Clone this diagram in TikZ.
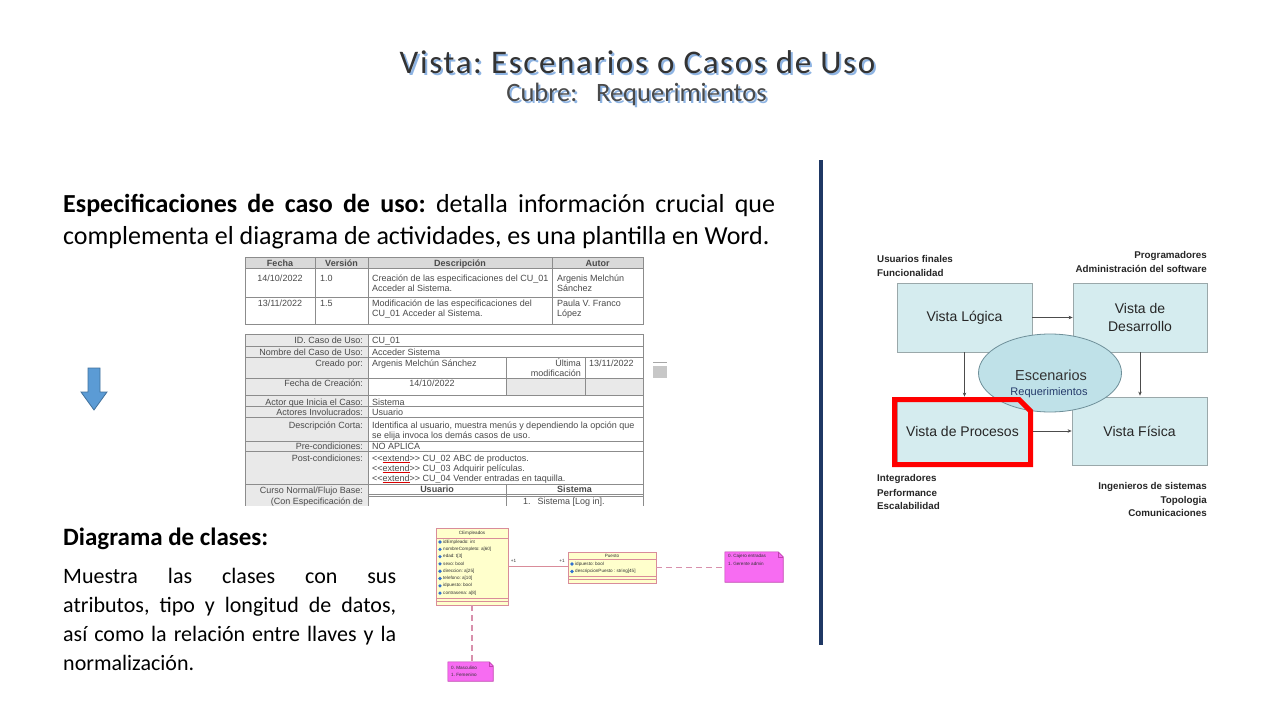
\documentclass[tikz,border=0pt]{standalone}
\usepackage{fontspec}
\setmainfont{Carlito}
\newfontfamily\arialf{Liberation Sans}
\usetikzlibrary{arrows.meta,calc,shapes.geometric}

\definecolor{titleshadow}{HTML}{8EB4E3}
\definecolor{titletext}{HTML}{333333}
\definecolor{subtext}{HTML}{4A4A4A}
\definecolor{tblline}{HTML}{8C8C8C}
\definecolor{tblhead}{HTML}{D9D9D9}
\definecolor{tbllabel}{HTML}{E9E9E9}
\definecolor{tbltext}{HTML}{4A4A4A}
\definecolor{arrowblue}{HTML}{5B9BD5}
\definecolor{arrowedge}{HTML}{41719C}
\definecolor{divider}{HTML}{1F3864}
\definecolor{umlfill}{HTML}{FFFFCC}
\definecolor{umlline}{HTML}{D98C9A}
\definecolor{umllink}{HTML}{D890AC}
\definecolor{attricon}{HTML}{3070D0}
\definecolor{notefill}{HTML}{F76CF2}
\definecolor{noteline}{HTML}{C040B0}
\definecolor{viewfill}{HTML}{D5ECEF}
\definecolor{viewline}{HTML}{9AA8AA}
\definecolor{scenfill}{HTML}{BFE1E8}
\definecolor{scenline}{HTML}{6E8F99}
\definecolor{reqtext}{HTML}{243A6A}
\definecolor{framered}{HTML}{FF0000}

\newcommand\tblfont{\arialf\fontsize{9}{10}\selectfont}
\newcommand\umlfont{\arialf\fontsize{4.6}{5.5}\selectfont}
\newcommand\redul[1]{\textcolor{red!85!black}{\underline{\textcolor{tbltext}{#1}}}}
% text with a soft blue drop shadow behind it
\newcommand\shadowed[1]{\makebox[0pt][l]{\hspace{2pt}\raisebox{-2pt}{\textcolor{titleshadow}{#1}}}#1}

\begin{document}
\frenchspacing
\begin{tikzpicture}[x=1pt,y=-1pt,
  tx/.style={inner sep=0pt, text=tbltext, font=\tblfont},
  txb/.style={tx, font=\tblfont\bfseries},
  tline/.style={draw=tblline, line width=0.6pt},
  umlbox/.style={draw=umlline, fill=umlfill, line width=0.9pt, inner sep=0pt},
  umltx/.style={inner sep=0pt, font=\umlfont, text=black!80},
  notelink/.style={draw=umllink, line width=1.1pt, dash pattern=on 6pt off 4pt},
  notebody/.style={fill=notefill, draw=noteline, line width=0.6pt},
  viewbox/.style={draw=viewline, fill=viewfill, line width=0.8pt,
    font=\arialf\fontsize{14}{18}\selectfont, text=black!85, align=center, inner sep=0pt},
  rolelbl/.style={inner sep=0pt, font=\arialf\bfseries\fontsize{9.8}{12}\selectfont, text=black!85},
  conn/.style={draw=black!70, line width=0.6pt, -{Stealth[length=4pt,width=3.5pt]}},
]
% canvas
\fill[white] (0,0) rectangle (1280,720);
\path[use as bounding box] (0,0) rectangle (1280,720);

% ---------- heading ----------
\node[anchor=base, inner sep=0pt, text depth=0pt, text=titletext, font=\fontsize{33}{36}\selectfont\addfontfeature{LetterSpace=5}] (title) at (637.5,73.5) {\shadowed{Vista: Escenarios o Casos de Uso}};
\node[anchor=base, inner sep=0pt, text height=17pt, text=subtext, font=\fontsize{26.5}{30}\selectfont] (sub) at (636.5,101) {\shadowed{Cubre:\hspace{0.7em}Requerimientos}};

% ---------- left column text ----------
\node[inner sep=0pt, anchor=base west] (spec) at (63,212)
  {\parbox[t]{712pt}{\fontsize{26}{32}\selectfont\textbf{Especificaciones de caso de uso:} detalla información crucial que\linebreak complementa el diagrama de actividades, es una plantilla en Word.}};

\node[inner sep=0pt, anchor=base west, font=\bfseries\fontsize{25}{30}\selectfont] (clshead) at (63,545) {Diagrama de clases:};
\node[inner sep=0pt, anchor=base west] (clsbody) at (63,583)
  {\parbox[t]{333pt}{\fontsize{22}{29}\selectfont Muestra las clases con sus\linebreak atributos, tipo y longitud de datos,\linebreak así como la relación entre llaves y la\linebreak normalización.}};

% down arrow
\path[fill=arrowblue, draw=arrowedge, line width=0.8pt]
  (88,368) -- (100,368) -- (100,392) -- (107,392) -- (94,410) -- (81,392) -- (88,392) -- cycle;

% ---------- use case template tables ----------
\begin{scope}
\clip (240,250) rectangle (675,505);
% revision history
\fill[tblhead] (245,257) rectangle (643,268);
\draw[tline] (245,257) rectangle (643,324);
\draw[tline] (245,268) -- (643,268) (245,297) -- (643,297);
\draw[tline] (315,257) -- (315,324) (368,257) -- (368,324) (552,257) -- (552,324);
\node[txb, anchor=base] (hfecha) at (280,266) {Fecha};
\node[txb, anchor=base] (hversion) at (341.5,266) {Versión};
\node[txb, anchor=base] (hdesc) at (460,266) {Descripción};
\node[txb, anchor=base] (hautor) at (597.5,266) {Autor};
\node[tx, anchor=base] (r1f) at (280,281) {14/10/2022};
\node[tx, anchor=base west] (r1v) at (320,281) {1.0};
\node[tx, anchor=base west] (r1d) at (372,281) {\parbox[t]{178pt}{\raggedright Creación de las especificaciones del CU\_01\\Acceder al Sistema.}};
\node[tx, anchor=base west] (r1a) at (557,281) {\parbox[t]{84pt}{\raggedright Argenis Melchún\\Sánchez}};
\node[tx, anchor=base] (r2f) at (280,306) {13/11/2022};
\node[tx, anchor=base west] (r2v) at (320,306) {1.5};
\node[tx, anchor=base west] (r2d) at (372,306) {\parbox[t]{178pt}{\raggedright Modificación de las especificaciones del\\CU\_01 Acceder al Sistema.}};
\node[tx, anchor=base west] (r2a) at (557,306) {\parbox[t]{84pt}{\raggedright Paula V. Franco\\López}};

% specification table
\fill[tbllabel] (245,334) rectangle (368,510);
\fill[tbllabel] (506,378) rectangle (643,395);
\draw[tline] (245,510) -- (245,334) -- (643,334) -- (643,510);
\foreach \yy in {346,357,378,395,406,417,441,451,484}
  \draw[tline] (245,\yy) -- (643,\yy);
\draw[tline] (368,334) -- (368,510);
\draw[tline] (506,357) -- (506,395) (585,357) -- (585,395);
\draw[tline] (506,484) -- (506,510);
\draw[tline] (368,494.3) -- (643,494.3) (368,496.3) -- (643,496.3);

\node[tx, anchor=base east] (lid) at (363,343.5) {ID. Caso de Uso:};
\node[tx, anchor=base east] (lnom) at (363,355) {Nombre del Caso de Uso:};
\node[tx, anchor=base east] (lcre) at (363,366) {Creado por:};
\node[tx, anchor=base east] (lfec) at (363,386) {Fecha de Creación:};
\node[tx, anchor=base east] (lact) at (363,405) {Actor que Inicia el Caso:};
\node[tx, anchor=base east] (linv) at (363,415) {Actores Involucrados:};
\node[tx, anchor=base east] (ldes) at (363,428) {Descripción Corta:};
\node[tx, anchor=base east] (lpre) at (363,449.5) {Pre-condiciones:};
\node[tx, anchor=base east] (lpos) at (363,461) {Post-condiciones:};
\node[tx, anchor=base east] (lcur) at (363,493) {Curso Normal/Flujo Base:};
\node[tx, anchor=base east] (lcon) at (363,504) {(Con Especificación de};

\node[tx, anchor=base west] (vid) at (372,343.5) {CU\_01};
\node[tx, anchor=base west] (vnom) at (372,355) {Acceder Sistema};
\node[tx, anchor=base west] (vcre) at (372,366) {Argenis Melchún Sánchez};
\node[tx, anchor=base east] (vult) at (581,366) {Última};
\node[tx, anchor=base east] (vmod) at (581,376) {modificación};
\node[tx, anchor=base west] (vfmod) at (589,366) {13/11/2022};
\node[tx, anchor=base] (vfec) at (432,386) {14/10/2022};
\node[tx, anchor=base west] (vact) at (372,405) {Sistema};
\node[tx, anchor=base west] (vinv) at (372,415) {Usuario};
\node[tx, anchor=base west] (vdes) at (372,428) {\parbox[t]{268pt}{\raggedright Identifica al usuario, muestra menús y dependiendo la opción que\\se elija invoca los demás casos de uso.}};
\node[tx, anchor=base west] (vpre) at (372,449.5) {NO APLICA};
\node[tx, anchor=base west] (vpos) at (372,461) {\parbox[t]{268pt}{\raggedright
  <{}<\redul{extend}>{}> CU\_02 ABC de productos.\\
  <{}<\redul{extend}>{}> CU\_03 Adquirir películas.\\
  <{}<\redul{extend}>{}> CU\_04 Vender entradas en taquilla.}};
\node[txb, anchor=base] (vusr) at (437,492) {Usuario};
\node[txb, anchor=base] (vsis) at (574.5,492) {Sistema};
\node[tx, anchor=base west] (vlog) at (523,504) {1.\hspace{7pt}Sistema [Log in].};
\end{scope}

% small handle beside the table
\draw[black!35, line width=0.8pt] (653,362) -- (667,362);
\fill[black!22] (653,366) rectangle (667,378);

% ---------- class diagram ----------
\node[umlbox, minimum width=72pt, minimum height=77pt] (emp) at (472,566.5) {};
\draw[umlline, line width=0.8pt] (436,538) -- (508,538);
\draw[umlline, line width=0.6pt] (436,598) -- (508,598) (436,601) -- (508,601);
\node[umltx] (empname) at (472,533.5) {CEmpleados};
\foreach \yy/\tt [count=\i] in {542/idEmpleado: int, 549.3/nombreCompleto: a[60], 556.6/edad: t[3], 563.9/sexo: bool, 571.2/direccion: a[25], 578.5/telefono: a[10], 585.8/idpuesto: bool, 593.1/contrasena: a[8]} {
  \fill[attricon] (440,\yy-1.8) -- (441.8,\yy) -- (440,\yy+1.8) -- (438.2,\yy) -- cycle;
  \node[umltx, anchor=west] (empattr\i) at (443,\yy) {\tt};
}

\node[umlbox, minimum width=88pt, minimum height=31pt] (puesto) at (612,567.5) {};
\draw[umlline, line width=0.8pt] (568,559) -- (656,559);
\draw[umlline, line width=0.6pt] (568,576) -- (656,576) (568,579) -- (656,579);
\node[umltx] (puename) at (612,555.5) {Puesto};
\foreach \yy/\tt [count=\i] in {564/idpuesto: bool, 571.5/descripcionPuesto : string[45]} {
  \fill[attricon] (572,\yy-1.8) -- (573.8,\yy) -- (572,\yy+1.8) -- (570.2,\yy) -- cycle;
  \node[umltx, anchor=west] (pueattr\i) at (575,\yy) {\tt};
}

\draw[umlline, line width=1pt] (emp.east) -- (emp.east -| puesto.west);
\node[umltx] (mult1) at (513.5,561) {+1};
\node[umltx] (mult2) at (562,561) {+1};

% notes
\node[minimum width=58pt, minimum height=30pt, inner sep=0pt] (note1) at (754,567) {};
\path[notebody] (note1.north west) -- ($(note1.north east)+(-5,0)$) -- ($(note1.north east)+(0,5)$) -- (note1.south east) -- (note1.south west) -- cycle;
\draw[noteline, line width=0.5pt] ($(note1.north east)+(-5,0)$) -- ($(note1.north east)+(-5,5)$) -- ($(note1.north east)+(0,5)$);
\node[umltx, anchor=west] (note1a) at (728,556) {0. Cajero entradas};
\node[umltx, anchor=west] (note1b) at (728,563.5) {1. Gerente admin};

\node[minimum width=45pt, minimum height=19pt, inner sep=0pt] (note2) at (470.5,671.5) {};
\path[notebody] (note2.north west) -- ($(note2.north east)+(-4,0)$) -- ($(note2.north east)+(0,4)$) -- (note2.south east) -- (note2.south west) -- cycle;
\draw[noteline, line width=0.5pt] ($(note2.north east)+(-4,0)$) -- ($(note2.north east)+(-4,4)$) -- ($(note2.north east)+(0,4)$);
\node[umltx, anchor=west] (note2a) at (451,667.5) {0. Masculino};
\node[umltx, anchor=west] (note2b) at (451,674.5) {1. Femenino};

\draw[notelink] (puesto.east) -- (note1.west |- puesto.east);
\draw[notelink] (emp.south) -- (emp.south |- note2.north);

% ---------- divider ----------
\draw[divider, line width=4pt] (821,160) -- (821,645);

% ---------- 4+1 view model ----------
\node[rolelbl, anchor=base west] (uf1) at (877,262.5) {Usuarios finales};
\node[rolelbl, anchor=base west] (uf2) at (877,276) {Funcionalidad};
\node[rolelbl, anchor=base east] (pr1) at (1207,258.5) {Programadores};
\node[rolelbl, anchor=base east] (pr2) at (1207,272) {Administración del software};
\node[rolelbl, anchor=base west] (in1) at (877,481.5) {Integradores};
\node[rolelbl, anchor=base west] (in2) at (877,496) {Performance};
\node[rolelbl, anchor=base west] (in3) at (877,509.5) {Escalabilidad};
\node[rolelbl, anchor=base east] (ig1) at (1207,489.5) {Ingenieros de sistemas};
\node[rolelbl, anchor=base east] (ig2) at (1207,503.5) {Topologia};
\node[rolelbl, anchor=base east] (ig3) at (1207,516.5) {Comunicaciones};

\node[viewbox, minimum width=135pt, minimum height=69pt] (logica) at (964.5,317.5) {Vista Lógica};
\node[viewbox, minimum width=134pt, minimum height=69pt] (desarrollo) at (1140,317.5) {Vista de\\Desarrollo};
\node[viewbox, minimum width=131pt, minimum height=62pt] (procesos) at (962.5,431) {Vista de Procesos};
\node[viewbox, minimum width=135pt, minimum height=68pt] (fisica) at (1139.5,431) {Vista Física};

\draw[conn] (logica.east) -- (desarrollo.west);
\draw[conn, shorten >=3pt] (logica.south) -- (logica.south |- procesos.north);
\draw[conn, shorten >=1pt] (desarrollo.south) -- (desarrollo.south |- fisica.north);
\draw[conn] (procesos.east) -- (fisica.west);

\node[ellipse, draw=scenline, fill=scenfill, line width=0.8pt, minimum width=143pt, minimum height=78pt, inner sep=0pt] (esc) at (1050,373) {};
\node[inner sep=0pt, anchor=base, font=\arialf\fontsize{14.5}{16}\selectfont, text=black!80] (escA) at (1051,380) {Escenarios};
\node[inner sep=0pt, anchor=base, font=\arialf\fontsize{11}{12}\selectfont, text=reqtext] (escB) at (1049,395) {Requerimientos};

% highlight frame around the process view
\draw[framered, line width=5pt, line join=miter]
  (894.5,399.5) -- (1019,399.5) -- (1030.5,411) -- (1030.5,464.5) -- (894.5,464.5) -- cycle;
\end{tikzpicture}
\end{document}
